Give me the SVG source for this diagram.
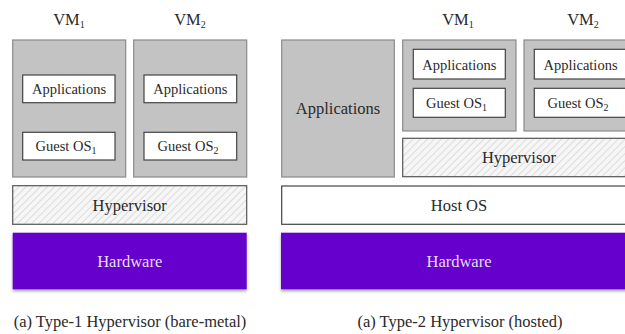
<svg xmlns="http://www.w3.org/2000/svg" width="625" height="334" viewBox="0 0 625 334">
<style>
text{font-family:'Liberation Serif',Tinos,'Times New Roman',Times,'Noto Serif','DejaVu Serif',FreeSerif,serif;fill:#2a2a2a;text-anchor:middle}
.vm{fill:#c3c3c3;stroke:#8a8a8a;stroke-width:1.2}
.box{fill:#fff;stroke:#444;stroke-width:1.2}
.hyp{fill:url(#hatch);stroke:#555;stroke-width:1.2}
.hw{fill:#6600cc;filter:url(#sh)}
.s{font-size:14.5px}
.m{font-size:16.5px}
.hwt{fill:#e8dcf5;font-size:16.5px}
.sub{font-size:10px}
</style>
<defs>
<pattern id="hatch" width="5" height="5" patternUnits="userSpaceOnUse" patternTransform="rotate(45)">
<rect width="5" height="5" fill="#f6f6f6"/>
<line x1="0" y1="0" x2="0" y2="5" stroke="#cfcfcf" stroke-width="1.3"/>
</pattern>
<filter id="sh" x="-5%" y="-10%" width="110%" height="130%">
<feDropShadow dx="0" dy="2" stdDeviation="1.5" flood-color="#000" flood-opacity="0.35"/>
</filter>
</defs>

<g id="left-vm1">
<text x="69" y="25" class="m">VM<tspan class="sub" dy="3">1</tspan></text>
<rect class="vm" x="12.7" y="40" width="113" height="137"/>
<g id="left-vm1-apps"><rect class="box" x="22.7" y="75" width="92.3" height="27.7"/><text x="69" y="94" class="s">Applications</text></g>
<g id="left-vm1-os"><rect class="box" x="22.7" y="132.3" width="92.3" height="27.7"/><text x="66" y="151" class="s">Guest OS<tspan class="sub" dy="3">1</tspan></text></g>
</g>

<g id="left-vm2">
<text x="190" y="25" class="m">VM<tspan class="sub" dy="3">2</tspan></text>
<rect class="vm" x="133.7" y="40" width="113" height="137"/>
<g id="left-vm2-apps"><rect class="box" x="144" y="75" width="92.7" height="27.7"/><text x="190.3" y="94" class="s">Applications</text></g>
<g id="left-vm2-os"><rect class="box" x="144" y="132.3" width="92.7" height="27.7"/><text x="188" y="151" class="s">Guest OS<tspan class="sub" dy="3">2</tspan></text></g>
</g>

<g id="left-hypervisor">
<rect class="hyp" x="12.7" y="185.7" width="234" height="38.6"/>
<text x="129.7" y="210.5" class="m">Hypervisor</text>
</g>

<g id="left-hardware">
<rect class="hw" x="12.7" y="232.7" width="234" height="56.6"/>
<text x="129.7" y="267" class="hwt">Hardware</text>
</g>

<text id="caption-left" x="130" y="327" class="m">(a) Type-1 Hypervisor (bare-metal)</text>

<g id="right-apps">
<rect class="vm" x="281.7" y="40" width="112.6" height="137"/>
<text x="338" y="114" class="m">Applications</text>
</g>

<g id="right-vm1">
<text x="458" y="25" class="m">VM<tspan class="sub" dy="3">1</tspan></text>
<rect class="vm" x="402.7" y="40" width="113.3" height="91"/>
<g id="right-vm1-apps"><rect class="box" x="413.3" y="49.3" width="92" height="29.7"/><text x="459.3" y="69.5" class="s">Applications</text></g>
<g id="right-vm1-os"><rect class="box" x="413.3" y="88.3" width="92" height="29"/><text x="456.5" y="108" class="s">Guest OS<tspan class="sub" dy="3">1</tspan></text></g>
</g>

<g id="right-vm2">
<text x="583" y="25" class="m">VM<tspan class="sub" dy="3">2</tspan></text>
<rect class="vm" x="524" y="40" width="110" height="91"/>
<g id="right-vm2-apps"><rect class="box" x="534.3" y="49.3" width="100" height="29.7"/><text x="580.5" y="69.5" class="s">Applications</text></g>
<g id="right-vm2-os"><rect class="box" x="534.3" y="88.3" width="100" height="29"/><text x="578" y="108" class="s">Guest OS<tspan class="sub" dy="3">2</tspan></text></g>
</g>

<g id="right-hypervisor">
<rect class="hyp" x="402.7" y="138.3" width="230" height="38.4"/>
<text x="519" y="163" class="m">Hypervisor</text>
</g>

<g id="right-hostos">
<rect class="box" x="281.7" y="186" width="350" height="38.3"/>
<text x="459" y="210.5" class="m">Host OS</text>
</g>

<g id="right-hardware">
<rect class="hw" x="281" y="232.7" width="350" height="56.6"/>
<text x="459" y="267" class="hwt">Hardware</text>
</g>

<text id="caption-right" x="460" y="327" class="m">(a) Type-2 Hypervisor (hosted)</text>

<g id="connectors"></g>
</svg>
